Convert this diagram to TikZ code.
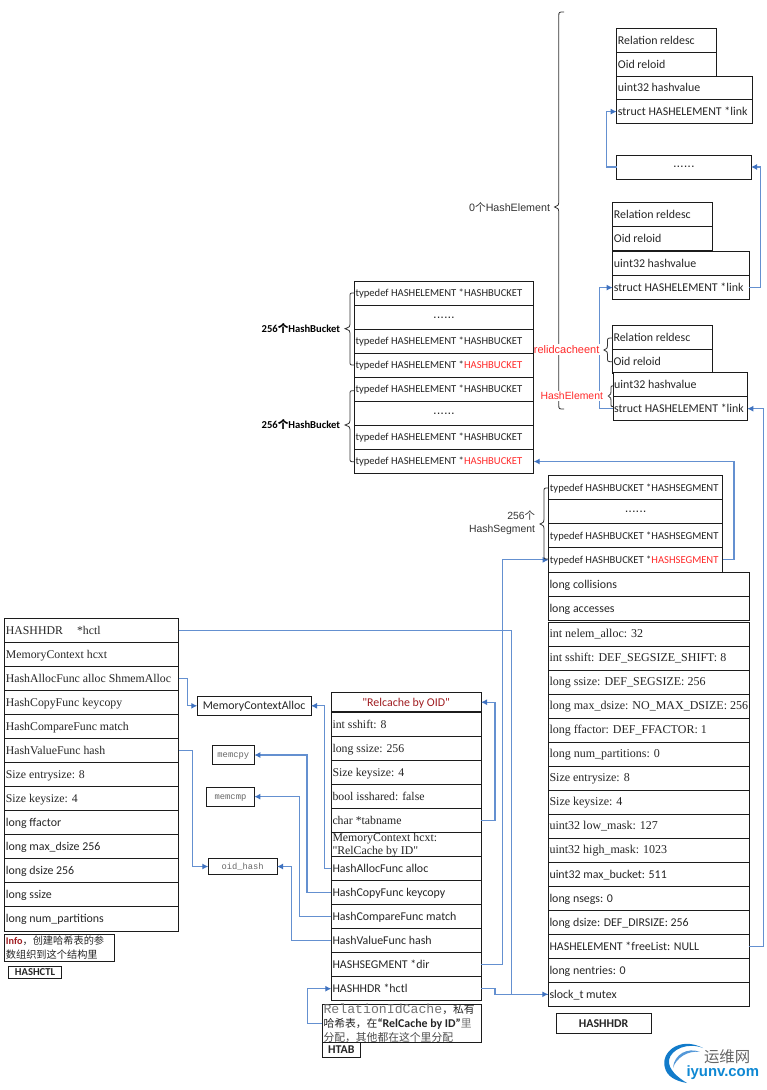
\documentclass[tikz,border=0pt]{standalone}
\usepackage{fontspec}
\usetikzlibrary{arrows.meta,calc}
\setmainfont{Liberation Serif}
\newfontfamily\fcal{Carlito}
\newfontfamily\ftms{Liberation Serif}
\newfontfamily\fmon{Liberation Mono}
\newfontfamily\fari{Liberation Sans}
\newfontfamily\fcjk{Noto Sans CJK SC}
\definecolor{linkblue}{HTML}{6490D0}
\definecolor{headblue}{HTML}{3F72C0}
\definecolor{cellline}{HTML}{1C1C1C}
\definecolor{hotred}{HTML}{FF2A2A}
\definecolor{darkred}{HTML}{A01C20}
\tikzset{
  cell/.style={draw=cellline,line width=0.9pt,fill=white,anchor=north west,inner xsep=1.2pt,inner ysep=0pt,outer sep=0pt},
  sanssm/.style={font=\fcal\fontsize{10.6}{12}\selectfont,text=black!85},
  sansmd/.style={font=\fcal\fontsize{11.9}{13}\selectfont,text=black!85},
  serifmd/.style={font=\ftms\fontsize{11.8}{13}\selectfont,text=black!85},
  seriflg/.style={font=\ftms\fontsize{12}{13}\selectfont,text=black!85},
  monosm/.style={font=\fmon\fontsize{8.8}{10}\selectfont,text=black!60},
  conn/.style={draw=linkblue,line width=1.2pt,-{Latex[length=6pt,width=6pt,color=headblue]}},
  plainlink/.style={draw=linkblue,line width=1.2pt},
  brace/.style={draw=black!80,line width=0.8pt},
  lbl/.style={inner sep=0pt,outer sep=0pt},
}
% optional style, name, x0, y0, x1, y1, text
\newcommand\cell[7][sanssm]{%
  \pgfmathsetmacro\cw{#5-#3}\pgfmathsetmacro\ch{#6-#4}\pgfmathsetmacro\ct{#5-#3-2.4}%
  \node[cell,#1,minimum width=\cw pt,minimum height=\ch pt] (#2) at (#3,#4) {\makebox[\ct pt][l]{\vphantom{Ag}\raisebox{-1pt}[0pt][0pt]{#7}}};}
\newcommand\ctcell[7][sanssm]{%
  \pgfmathsetmacro\cw{#5-#3}\pgfmathsetmacro\ch{#6-#4}\pgfmathsetmacro\ct{#5-#3-2.4}%
  \node[cell,#1,minimum width=\cw pt,minimum height=\ch pt] (#2) at (#3,#4) {\makebox[\ct pt][c]{\vphantom{Ag}\raisebox{-1pt}[0pt][0pt]{#7}}};}
% end x, spine x, tip x, y0, tip y, y1
\newcommand\lbr[6]{%
  \draw[brace] (#1,#4) .. controls (#2,#4) .. (#2,#4+4) -- (#2,#5-4.5) .. controls (#2,#5-2) .. (#3,#5)
     .. controls (#2,#5+2) .. (#2,#5+4.5) -- (#2,#6-4) .. controls (#2,#6) .. (#1,#6);}
\newcommand\hbk{\textcolor{hotred}{HASHBUCKET}}
\newcommand\hsg{\textcolor{hotred}{HASHSEGMENT}}
\newcommand\rowdots{\raisebox{3pt}{\fari\fontsize{13}{13}\selectfont ......}}
\begin{document}
\begin{tikzpicture}[x=1pt,y=-1pt]
\useasboundingbox (0,0) rectangle (767,1090);
\fill[white] (0,0) rectangle (767,1090);
% big brace
\lbr{564}{558.8}{554.5}{12}{207}{409}
% element A
\cell[sansmd]{arel}{616.7}{28.7}{716}{52.7}{Relation reldesc}
\cell[sansmd]{aoid}{616.7}{52.7}{716}{76.7}{Oid reloid}
\cell[sansmd]{ahash}{616.7}{76.7}{752.7}{99.5}{uint32 hashvalue}
\cell[sansmd]{alink}{616.7}{99.5}{752.7}{123.7}{struct HASHELEMENT *link}
\ctcell[sansmd]{adots}{616.7}{155}{751}{179}{\rowdots}
% element B
\cell[sansmd]{brel}{612.7}{202.3}{712}{226.7}{Relation reldesc}
\cell[sansmd]{boid}{612.7}{226.7}{712}{250.7}{Oid reloid}
\cell[sansmd]{bhash}{612.7}{251}{749}{275.7}{uint32 hashvalue}
\cell[sansmd]{blink}{612.7}{275.7}{749}{299.5}{struct HASHELEMENT *link}
% element C
\cell[sansmd]{crel}{612.3}{325.3}{712}{349.3}{Relation reldesc}
\cell[sansmd]{coid}{612.3}{349.3}{712}{373.3}{Oid reloid}
\cell[sansmd]{chash}{613}{372.7}{747.3}{396.7}{uint32 hashvalue}
\cell[sansmd]{clink}{613}{396.7}{747.3}{420.7}{struct HASHELEMENT *link}
% buckets
\cell{ba}{354.3}{281.3}{533.7}{305.3}{typedef HASHELEMENT *HASHBUCKET}
\ctcell[sansmd]{bb}{354.3}{305.3}{533.7}{329.3}{\rowdots}
\cell{bc}{354.3}{329.3}{533.7}{353.3}{typedef HASHELEMENT *HASHBUCKET}
\cell{bd}{354.3}{353.3}{533.7}{377.3}{typedef HASHELEMENT *\hbk}
\cell{be}{354.3}{377.3}{533.7}{401.3}{typedef HASHELEMENT *HASHBUCKET}
\ctcell[sansmd]{bf}{354.3}{401.3}{533.7}{425.3}{\rowdots}
\cell{bg}{354.3}{425.3}{533.7}{449.3}{typedef HASHELEMENT *HASHBUCKET}
\cell{bh}{354.3}{449.3}{533.7}{473.7}{typedef HASHELEMENT *\hbk}
% segments
\cell{sa}{548.7}{475.7}{722.7}{499.7}{typedef HASHBUCKET *HASHSEGMENT}
\ctcell[sansmd]{sb}{548.7}{499.7}{722.7}{523.7}{\rowdots}
\cell{sc}{548.7}{523.7}{722.7}{547.7}{typedef HASHBUCKET *HASHSEGMENT}
\cell{sd}{548.7}{547.7}{722.7}{572}{typedef HASHBUCKET *\hsg}
% HASHHDR
\cell[sansmd]{ha}{548.3}{572.7}{749.3}{596.7}{long collisions}
\cell[sansmd]{hb}{548.3}{596.7}{749.3}{620.7}{long accesses}
\cell[seriflg]{hc}{548.3}{622.3}{749.3}{646.3}{int nelem\_alloc: 32}
\cell[seriflg]{hd}{548.3}{646.3}{749.3}{670.3}{int sshift: DEF\_SEGSIZE\_SHIFT: 8}
\cell[seriflg]{he}{548.3}{670.3}{749.3}{694.3}{long ssize: DEF\_SEGSIZE: 256}
\cell[seriflg]{hf}{548.3}{694.3}{749.3}{718.3}{long max\_dsize: NO\_MAX\_DSIZE: 256}
\cell[seriflg]{hg}{548.3}{718.3}{749.3}{742.3}{long ffactor: DEF\_FFACTOR: 1}
\cell[seriflg]{hh}{548.3}{742.3}{749.3}{766.3}{long num\_partitions: 0}
\cell[seriflg]{hi}{548.3}{766.3}{749.3}{790.3}{Size entrysize: 8}
\cell[seriflg]{hj}{548.3}{790.3}{749.3}{814.3}{Size keysize: 4}
\cell[seriflg]{hk}{548.3}{814.3}{749.3}{838.3}{uint32 low\_mask: 127}
\cell[seriflg]{hl}{548.3}{838.3}{749.3}{862.3}{uint32 high\_mask: 1023}
\cell[sansmd]{hm}{548.3}{862.3}{749.3}{886.3}{uint32 max\_bucket: 511}
\cell[sansmd]{hn}{548.3}{886.3}{749.3}{910.3}{long nsegs: 0}
\cell[sansmd]{ho}{548.3}{910.3}{749.3}{934.3}{long dsize: DEF\_DIRSIZE: 256}
\cell[sansmd]{hp}{548.3}{934.3}{749.3}{958.3}{HASHELEMENT *freeList: NULL}
\cell[sansmd]{hq}{548.3}{958.3}{749.3}{982.3}{long nentries: 0}
\cell[sansmd]{hr}{548.3}{982.3}{749.3}{1006.3}{slock\_t mutex}
\ctcell[sansmd]{hlabel}{556.3}{1013.7}{651}{1033}{\bfseries HASHHDR}
% HASHCTL
\cell[serifmd]{ca}{4.7}{618.7}{178.7}{642.7}{HASHHDR\hspace{1.2em}*hctl}
\cell[serifmd]{cb}{4.7}{642.7}{178.7}{666.7}{MemoryContext hcxt}
\cell[serifmd]{cc}{4.7}{666.7}{178.7}{690.7}{HashAllocFunc alloc ShmemAlloc}
\cell[serifmd]{cd}{4.7}{690.7}{178.7}{714.7}{HashCopyFunc keycopy}
\cell[serifmd]{ce}{4.7}{714.7}{178.7}{738.7}{HashCompareFunc match}
\cell[serifmd]{cf}{4.7}{738.7}{178.7}{762.7}{HashValueFunc hash}
\cell[serifmd]{cg}{4.7}{762.7}{178.7}{786.7}{Size entrysize: 8}
\cell[serifmd]{ch}{4.7}{786.7}{178.7}{810.7}{Size keysize: 4}
\cell[sansmd]{ci}{4.7}{810.7}{178.7}{834.7}{long ffactor}
\cell[sansmd]{cj}{4.7}{834.7}{178.7}{858.7}{long max\_dsize 256}
\cell[sansmd]{ck}{4.7}{858.7}{178.7}{882.7}{long dsize 256}
\cell[sansmd]{cl}{4.7}{882.7}{178.7}{906.7}{long ssize}
\cell[sansmd]{cm}{4.7}{906.7}{178.7}{931}{long num\_partitions}
\cell[sanssm]{cinfo}{4.7}{934.3}{114.7}{961}{\raisebox{1pt}{\parbox[c][0pt][c]{108pt}{\fcjk\fontsize{10.2}{14}\selectfont\textcolor{darkred}{\fcal\bfseries Info}，创建哈希表的参\\[-0.5pt]数组织到这个结构里}}}
\ctcell[sanssm]{clabel}{8.3}{966.7}{61.7}{978}{\bfseries HASHCTL}
% functions
\ctcell[sansmd]{mca}{197.3}{696.3}{311}{715.3}{MemoryContextAlloc}
\ctcell[monosm]{mcpy}{212.3}{745.3}{254.3}{764.7}{memcpy}
\ctcell[monosm]{mcmp}{206.7}{787}{254.3}{806.3}{memcmp}
\ctcell[monosm]{oid}{208.3}{858.7}{277}{874.3}{oid\_hash}
% HTAB
\ctcell[sansmd]{ta}{331.3}{692.7}{481}{711.7}{\textcolor{darkred}{"Relcache by OID"}}
\cell[serifmd]{tb}{331.3}{712.7}{481}{736.7}{int sshift: 8}
\cell[serifmd]{tc}{331.3}{736.7}{481}{760.7}{long ssize: 256}
\cell[serifmd]{td}{331.3}{760.7}{481}{784.7}{Size keysize: 4}
\cell[serifmd]{te}{331.3}{784.7}{481}{808.7}{bool isshared: false}
\cell[serifmd]{tf}{331.3}{808.7}{481}{832.7}{char *tabname}
\cell[serifmd]{tg}{331.3}{832.7}{481}{856.7}{\parbox[c][0pt][c]{145pt}{\baselineskip=13.6pt MemoryContext hcxt:\\"RelCache by ID"}}
\cell[sansmd]{th}{331.3}{856.7}{481}{880.7}{HashAllocFunc alloc}
\cell[sansmd]{ti}{331.3}{880.7}{481}{904.7}{HashCopyFunc keycopy}
\cell[sansmd]{tj}{331.3}{904.7}{481}{928.7}{HashCompareFunc match}
\cell[sansmd]{tk}{331.3}{928.7}{481}{952.7}{HashValueFunc hash}
\cell[sansmd]{tl}{331.3}{952.7}{481}{976.7}{HASHSEGMENT *dir}
\cell[sansmd]{tm}{331.3}{976.7}{481}{1000.7}{HASHHDR *hctl}
\ctcell[sansmd]{thtab}{322.3}{1042.3}{360.3}{1057.7}{\bfseries HTAB}
\cell[sanssm]{tnote}{322.3}{1004.3}{481}{1042.3}{\raisebox{1pt}{\parbox[c][0pt][c]{155pt}{\fcjk\fontsize{10.8}{13.9}\selectfont\textcolor{black!55}{\fmon\fontsize{13.2}{13.9}\selectfont RelationIdCache}，私有\\哈希表，在{\fcal\bfseries\fontsize{11.9}{13.9}\selectfont“RelCache by ID”}\textcolor{black!55}{里}\\\textcolor{black!70}{分配，其他都在这个里分配}}}}
% connectors
\draw[plainlink] (tm.east) -- ++(14,0) |- (hr.west);
\draw[conn] (ca.east) -- ++(333,0) |- (hr.west);
\draw[conn] (tl.east) -- ++(21.7,0) |- (sd.west);
\draw[conn] (tf.east) -- ++(14,0) |- (ta.east);
\draw[conn] (th.west) -- ++(-7,0) |- (mca.east);
\draw[conn] (ti.west) -- ++(-24.3,0) |- (mcpy.east);
\draw[conn] (tj.west) -- ++(-32,0) |- (mcmp.east);
\draw[conn] (tk.west) -- ++(-39.6,0) |- (oid.east);
\draw[conn] (cc.east) -- ++(8.6,0) |- (mca.west);
\draw[conn] (cf.east) -- ++(14,0) |- (oid.west);
\draw[conn] (tnote.west) -- ++(-15,0) |- (tm.west);
\draw[conn] (sd.east) -- ++(11.3,0) |- (bh.east);
\draw[conn] (hp.east) -- ++(14,0) |- (clink.east);
\draw[conn] (clink.west) -- ++(-13.3,0) |- (blink.west);
\draw[conn] (blink.east) -- ++(11.7,0) |- (adots.east);
\draw[conn] (adots.west) -- ++(-10,0) |- (alink.west);
% small braces
\lbr{354}{350}{345}{293}{328.7}{365}
\lbr{354}{350}{345}{390.7}{425}{461.7}
\lbr{548}{544}{540}{488}{524}{559}
\lbr{612.5}{607.5}{604}{338}{350}{361.7}
\lbr{613.5}{611}{608.3}{385.7}{396}{406.7}
% brace labels
\node[lbl,anchor=east,font=\fari\fontsize{10.7}{12}\selectfont,text=black!80] (ellabel) at (550,207) {0{\fcjk 个}HashElement};
\node[lbl,anchor=east,font=\fcal\fontsize{10.6}{12}\selectfont\bfseries] (bkta) at (340,328.7) {256{\fcjk 个}HashBucket};
\node[lbl,anchor=east,font=\fcal\fontsize{10.6}{12}\selectfont\bfseries] (bktb) at (340,424.7) {256{\fcjk 个}HashBucket};
\node[lbl,anchor=east,align=right,font=\fari\fontsize{10.4}{13}\selectfont,text=black!80] (seglabel) at (535,522.5) {256{\fcjk 个}\\HashSegment};
\node[lbl,fill=white,anchor=west,font=\fari\fontsize{11}{12}\selectfont,text=hotred,inner xsep=0.2pt,inner ysep=1.5pt] (relid) at (533.7,349.8) {relidcacheent};
\node[lbl,fill=white,anchor=west,font=\fari\fontsize{10.4}{12}\selectfont,text=hotred,inner xsep=0.5pt,inner ysep=1pt] (helem) at (540,395.7) {HashElement};
% watermark
\fill[cyan!60!blue] (703,1048) .. controls (680,1036) and (660,1052) .. (665,1068) .. controls (667,1076) and (675,1081) .. (687,1083) .. controls (677,1077) and (668,1069) .. (669,1060) .. controls (671,1049) and (688,1042) .. (703,1048) -- cycle;
\fill[cyan!60!blue!70] (700,1052) .. controls (688,1047) and (674,1054) .. (673,1068) .. controls (676,1058) and (688,1050) .. (700,1052) -- cycle;
\node[lbl,anchor=west,font=\fcjk\fontsize{15.4}{17}\selectfont,text=black!60] (wma) at (704,1056.7) {运维网};
\node[lbl,anchor=west,font=\fari\bfseries\fontsize{14.9}{15}\selectfont,text=cyan!70!blue] (wmb) at (686.5,1073) {iyunv.com};
\end{tikzpicture}
\end{document}
